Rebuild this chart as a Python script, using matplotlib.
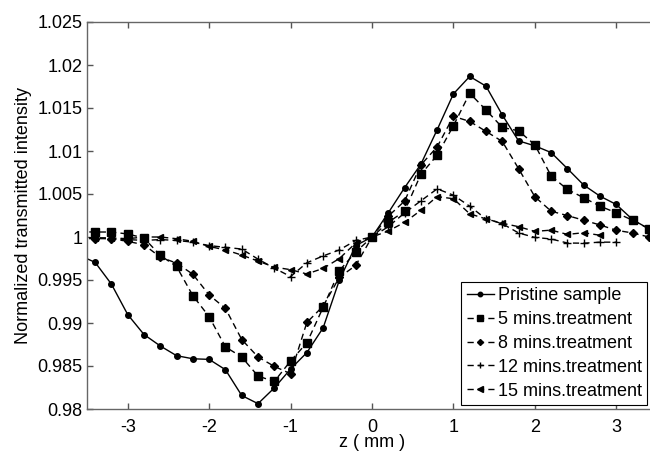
import matplotlib
matplotlib.use("Agg")
import matplotlib.pyplot as plt

plt.rcParams['font.family'] = ['Liberation Sans', 'DejaVu Sans']

# z positions (mm)
z_full = [-3.6, -3.4, -3.2, -3.0, -2.8, -2.6, -2.4, -2.2, -2.0, -1.8, -1.6, -1.4, -1.2,
          -1.0, -0.8, -0.6, -0.4, -0.2, 0.0, 0.2, 0.4, 0.6, 0.8, 1.0, 1.2, 1.4, 1.6,
          1.8, 2.0, 2.2, 2.4, 2.6, 2.8, 3.0, 3.2, 3.4, 3.6]
z_12 = z_full[:34]   # ends at 3.0
z_15 = z_full[:33]   # ends at 2.8

pristine = [0.9979, 0.99705, 0.99452, 0.99098, 0.98866, 0.98733, 0.98620, 0.98584, 0.98577,
            0.98457, 0.98157, 0.98062, 0.98245, 0.98465, 0.98656, 0.98944, 0.99500, 0.99900,
            1.00000, 1.00281, 1.00573, 1.00846, 1.01247, 1.01664, 1.01867, 1.01754, 1.01419,
            1.01118, 1.01060, 1.00982, 1.00795, 1.00604, 1.00475, 1.00378, 1.00203, 1.00094,
            1.00030]
min5 = [1.0006, 1.00058, 1.00058, 1.00035, 0.99988, 0.99786, 0.99657, 0.99318, 0.99073,
        0.98722, 0.98605, 0.98383, 0.98320, 0.98558, 0.98769, 0.99182, 0.99610, 0.99825,
        1.00000, 1.00171, 1.00300, 1.00729, 1.00951, 1.01294, 1.01672, 1.01477, 1.01274,
        1.01235, 1.01072, 1.00709, 1.00553, 1.00456, 1.00359, 1.00281, 1.00195, 1.00097,
        1.00040]
min8 = [0.9998, 0.99981, 0.99981, 0.99949, 0.99910, 0.99766, 0.99696, 0.99567, 0.99326,
        0.99170, 0.98808, 0.98605, 0.98496, 0.98410, 0.99006, 0.99197, 0.99532, 0.99669,
        1.00000, 1.00242, 1.00417, 1.00838, 1.01048, 1.01403, 1.01344, 1.01228, 1.01111,
        1.00795, 1.00468, 1.00300, 1.00249, 1.00195, 1.00140, 1.00078, 1.00047, 1.00000,
        0.99980]
min12 = [0.9999, 0.99990, 0.99980, 0.99970, 0.99960, 0.99970, 0.99960, 0.99940, 0.99900,
         0.99880, 0.99860, 0.99743, 0.99638, 0.99540, 0.99700, 0.99780, 0.99850, 0.99960,
         1.00000, 1.00120, 1.00280, 1.00420, 1.00560, 1.00486, 1.00358, 1.00210, 1.00155,
         1.00047, 0.99995, 0.99977, 0.99930, 0.99928, 0.99940, 0.99940]
min15 = [0.9999, 0.99990, 0.99990, 0.99980, 1.00000, 1.00000, 0.99980, 0.99950, 0.99890,
         0.99850, 0.99790, 0.99720, 0.99650, 0.99620, 0.99570, 0.99635, 0.99750, 0.99930,
         1.00000, 1.00070, 1.00170, 1.00310, 1.00470, 1.00445, 1.00270, 1.00210, 1.00160,
         1.00120, 1.00065, 1.00080, 1.00030, 1.00050, 1.00020]

labels = ['Pristine sample', '5 mins.treatment', '8 mins.treatment',
          '12 mins.treatment', '15 mins.treatment']

xticks = [-3, -2, -1, 0, 1, 2, 3]
yticks = [0.98, 0.985, 0.99, 0.995, 1.0, 1.005, 1.01, 1.015, 1.02, 1.025]
ytick_labels = ['0.98', '0.985', '0.99', '0.995', '1', '1.005', '1.01', '1.015', '1.02', '1.025']

fig = plt.figure(figsize=(6.5, 4.51), dpi=100)
ax = fig.add_axes([87/650, 1 - 409/451, 570/650, 387/451])

dash = (4.5, 3.0)
ax.plot(z_full, pristine, '-', color='black', lw=1.0, marker='o', ms=4.0,
        label=labels[0])
ax.plot(z_full, min5, '--', color='black', lw=1.0, marker='s', ms=5.5, dashes=dash,
        label=labels[1])
ax.plot(z_full, min8, '--', color='black', lw=1.0, marker='D', ms=3.8, dashes=dash,
        label=labels[2])
ax.plot(z_12, min12, '--', color='black', lw=1.0, marker='+', ms=6.0, mew=1.0, dashes=dash,
        label=labels[3])
ax.plot(z_15, min15, '--', color='black', lw=1.0, marker='<', ms=5.0, dashes=dash,
        label=labels[4])

ax.set_xlim(-3.5, 3.5)
ax.set_ylim(0.98, 1.025)
ax.set_xticks(xticks)
ax.set_xticklabels([str(t) for t in xticks])
ax.set_yticks(yticks)
ax.set_yticklabels(ytick_labels)

for s in ax.spines.values():
    s.set_color('#666666')
    s.set_linewidth(1.0)

ax.tick_params(axis='both', direction='in', length=4, width=1.0, color='#555555',
               labelsize=13, labelcolor='black', top=True, right=True)
ax.tick_params(axis='x', pad=7)
ax.tick_params(axis='y', pad=3)

ax.set_xlabel('z ( mm )', fontsize=13, labelpad=-1)
ax.set_ylabel('Normalized transmitted intensity', fontsize=13, labelpad=4)

leg = ax.legend(loc='lower right', bbox_to_anchor=(647/650, 1 - 405/451),
                bbox_transform=fig.transFigure, borderaxespad=0, fontsize=13,
                handlelength=1.5, handletextpad=0.2, labelspacing=0.38,
                borderpad=0.3, fancybox=False, framealpha=1, markerscale=0.8)
leg.get_frame().set_edgecolor('black')
leg.get_frame().set_linewidth(0.8)

fig.savefig('out.png', dpi=100)
